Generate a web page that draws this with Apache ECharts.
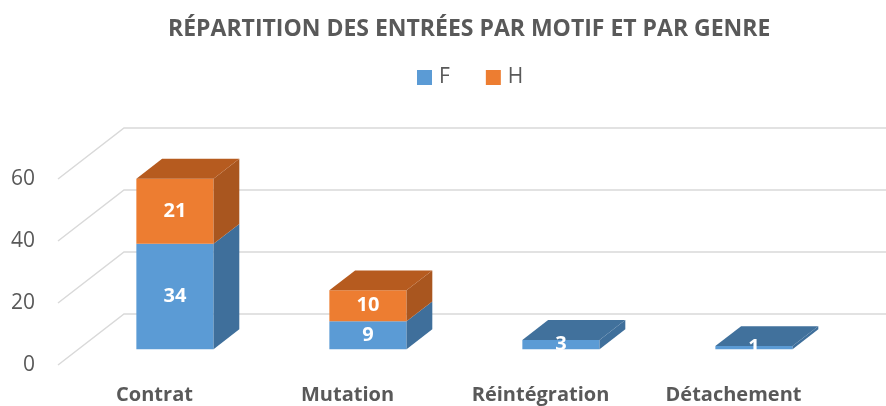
<!DOCTYPE html>
<html lang="fr">
<head>
<meta charset="UTF-8">
<script src="https://cdn.jsdelivr.net/npm/echarts@6/dist/echarts.min.js"></script>
<title>Répartition des entrées</title>
<style>html,body{margin:0;padding:0;background:#fff;}</style>
</head>
<body>
<div id="main" style="width:886px;height:406px;"></div>
<script type="text/javascript">
// données
var motifs = ['Contrat', 'Mutation', 'Réintégration', 'Détachement'];
var femmes = [34, 9, 3, 1];
var hommes = [21, 10, 0, 0];
var graduations = [0, 20, 40, 60];

// profondeur "3D" (pixels) du plan avant jusqu'au mur du fond
var DX = 66, DY = -51;
var F0 = 0.31, FD = 0.39; // début et épaisseur des barres dans la profondeur

var font = '"Open Sans", "DejaVu Sans", sans-serif';

function boxRender(front, side, top, topIfNoMore) {
    return function (params, api) {
        var ci = api.value(0), lo = api.value(1), hi = api.value(2), more = api.value(3);
        if (hi <= lo) return;
        var p0 = api.coord([ci, lo]), p1 = api.coord([ci, hi]);
        var bw = api.size([1, 0])[0] * 0.4;
        var xl = p0[0] + DX * F0 - bw / 2, xr = xl + bw;
        var yb = p0[1] + DY * F0, yt = p1[1] + DY * F0;
        var bx = DX * FD, by = DY * FD;
        var children = [
            {type: 'rect', shape: {x: xl, y: yt, width: bw, height: yb - yt}, style: {fill: front}},
            {type: 'polygon', shape: {points: [[xr, yb], [xr + bx, yb + by], [xr + bx, yt + by], [xr, yt]]}, style: {fill: side}}
        ];
        if (!topIfNoMore || more <= 0) {
            children.push({type: 'polygon', shape: {points: [[xl, yt], [xr, yt], [xr + bx, yt + by], [xl + bx, yt + by]]}, style: {fill: top}});
        }
        children.push({
            type: 'text',
            style: {
                text: String(hi - lo), x: (xl + xr) / 2, y: (yt + yb) / 2,
                align: 'center', verticalAlign: 'middle',
                fill: '#fff', font: 'bold 20px ' + font
            }
        });
        return {type: 'group', children: children};
    };
}

var dataF = [], dataH = [];
for (var i = 0; i < motifs.length; i++) {
    dataF.push([i, 0, femmes[i], hommes[i]]);
    dataH.push([i, femmes[i], femmes[i] + hommes[i], 0]);
}
var dataMur = [];
for (var j = 0; j < graduations.length; j++) dataMur.push([0, graduations[j]]);

var myChart = echarts.init(document.getElementById('main'));
var option = {
    animation: false,
    title: {
        text: 'RÉPARTITION DES ENTRÉES PAR MOTIF ET PAR GENRE',
        left: 163, top: 13,
        textStyle: {fontFamily: font, fontSize: 23, fontWeight: 'bold', color: '#595959'}
    },
    legend: {
        data: ['F', 'H'],
        top: 62, left: 412,
        icon: 'rect', itemWidth: 15, itemHeight: 15, itemGap: 36,
        textStyle: {fontFamily: font, fontSize: 21, color: '#595959', padding: [0, 0, 0, 2]}
    },
    grid: {left: 58, right: 56, top: 179, bottom: 41},
    xAxis: {
        type: 'category',
        data: motifs,
        axisLine: {show: false},
        axisTick: {show: false},
        axisLabel: {margin: 20, fontFamily: font, fontSize: 20, fontWeight: 'bold', color: '#595959'}
    },
    yAxis: {
        type: 'value',
        min: 0, max: 60, interval: 20,
        axisLine: {show: false},
        axisTick: {show: false},
        splitLine: {show: false},
        axisLabel: {margin: 23, fontFamily: font, fontSize: 21, color: '#595959'}
    },
    series: [
        {
            name: 'mur',
            type: 'custom',
            silent: true,
            z: 1,
            data: dataMur,
            renderItem: function (params, api) {
                var cs = params.coordSys;
                var y = api.coord([0, api.value(1)])[1];
                return {
                    type: 'polyline',
                    shape: {points: [[cs.x, y], [cs.x + DX, y + DY], [cs.x + cs.width + DX, y + DY]]},
                    style: {stroke: '#D9D9D9', lineWidth: 1.5, fill: null}
                };
            }
        },
        {
            name: 'F',
            type: 'custom',
            z: 2,
            itemStyle: {color: '#5B9BD5'},
            data: dataF,
            renderItem: boxRender('#5B9BD5', '#3F6F9B', '#41719C', true)
        },
        {
            name: 'H',
            type: 'custom',
            z: 3,
            itemStyle: {color: '#ED7D31'},
            data: dataH,
            renderItem: boxRender('#ED7D31', '#A9561F', '#B65B1F', false)
        }
    ]
};
myChart.setOption(option);
</script>
</body>
</html>
